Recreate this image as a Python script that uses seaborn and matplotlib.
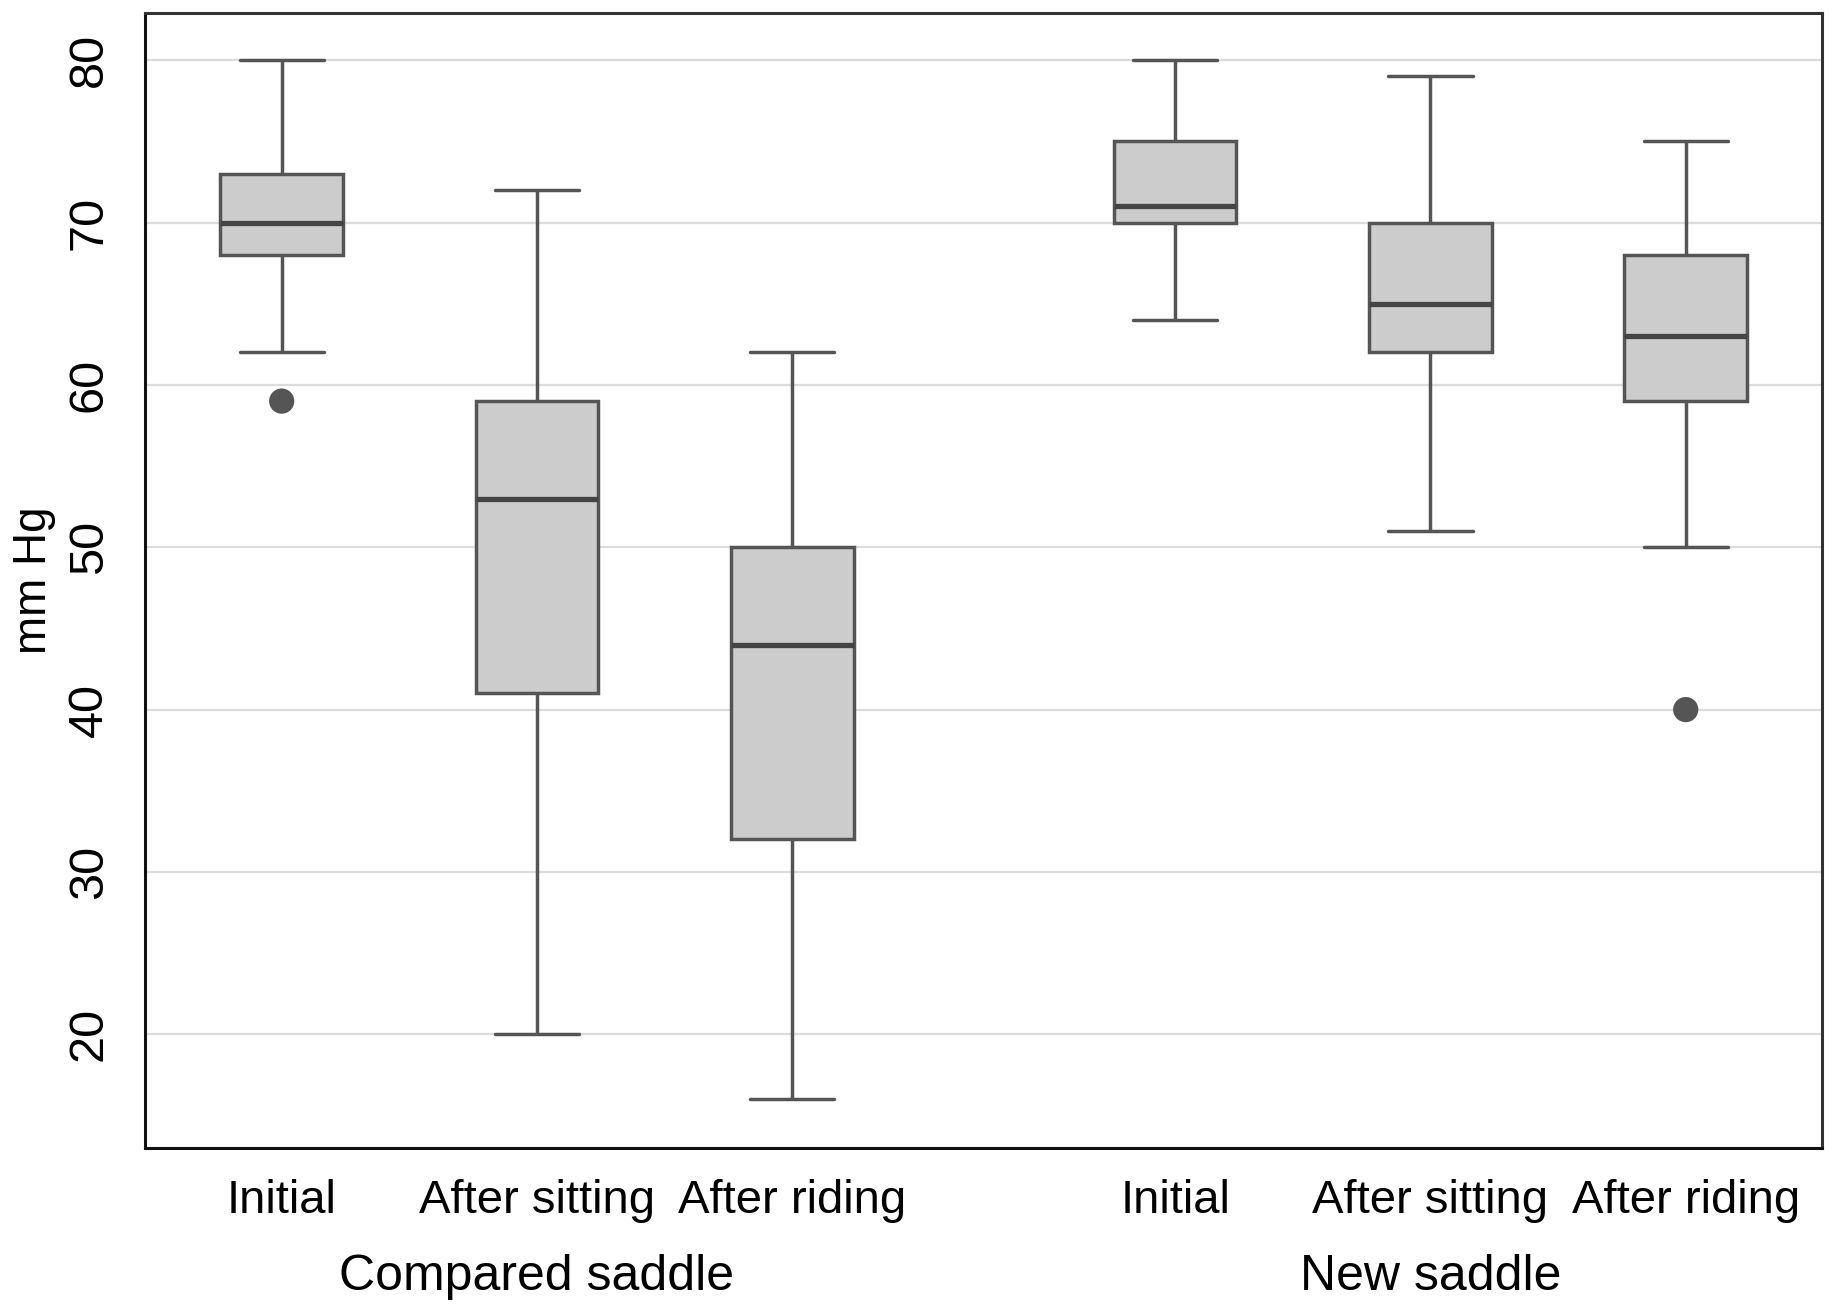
import numpy as np
import pandas as pd
import matplotlib
matplotlib.use("Agg")
import matplotlib.pyplot as plt
import matplotlib.transforms as mtransforms
import seaborn as sns

# Box plot summaries (mm Hg)
saddles = ["Compared saddle", "New saddle"]
conditions = ["Initial", "After sitting", "After riding"]
mins = [62, 20, 16, 64, 51, 50]
q1s = [68, 41, 32, 70, 62, 59]
medians = [70, 53, 44, 71, 65, 63]
q3s = [73, 59, 50, 75, 70, 68]
maxs = [80, 72, 62, 80, 79, 75]
outliers = [[59], [], [], [], [], [40]]

# layout: 3 boxes per saddle, extra half slot between saddles
group_step = 3.5
rows = []
out_rows = []
tick_pos, tick_lab = [], []
for i in range(len(mins)):
    g, c = divmod(i, 3)
    pos = g * group_step + c
    tick_pos.append(pos)
    tick_lab.append(conditions[c])
    for v in [mins[i], q1s[i], medians[i], q3s[i], maxs[i]]:
        rows.append({"pos": pos, "mmHg": v})
    for v in outliers[i]:
        out_rows.append({"pos": pos, "mmHg": v})
df = pd.DataFrame(rows)
df_out = pd.DataFrame(out_rows)

sns.set_style("white")
plt.rcParams["font.family"] = ["Liberation Sans", "DejaVu Sans"]
plt.rcParams["text.color"] = "black"
plt.rcParams["axes.labelcolor"] = "black"
plt.rcParams["xtick.color"] = "black"
plt.rcParams["ytick.color"] = "black"

fig, ax = plt.subplots(figsize=(18.37, 13.06), dpi=100)
fig.subplots_adjust(left=0.079, right=0.992, top=0.990, bottom=0.121)

edge = "#555555"
ax.yaxis.grid(True, color="#dcdcdc", linewidth=1.6)
ax.set_axisbelow(True)

sns.boxplot(data=df, x="pos", y="mmHg", native_scale=True, orient="v",
            width=0.48, color="#cccccc", saturation=1, linecolor=edge,
            linewidth=2.5, whis=(0, 100), showfliers=False,
            capwidths=0.33,
            medianprops=dict(color="#444444", linewidth=3.8), ax=ax)

sns.scatterplot(data=df_out, x="pos", y="mmHg", color=edge, s=330,
                edgecolor="none", ax=ax, zorder=5, legend=False)

ax.set_xlim(-0.535, 5.5 + 0.535)
ax.set_ylim(13, 82.9)
ax.set_yticks([20, 30, 40, 50, 60, 70, 80])
ax.set_xticks(tick_pos)
ax.set_xticklabels(tick_lab, fontsize=34)
ax.tick_params(axis="x", length=0, pad=22)
ax.tick_params(axis="y", length=14, width=2, color="#222222", pad=10, labelsize=35)
for lab in ax.get_yticklabels():
    lab.set_rotation(90)
    lab.set_va("center")
ax.set_xlabel("")
ax.set_ylabel("mm Hg", fontsize=33, labelpad=8)

for side in ["left", "bottom"]:
    ax.spines[side].set_color("#111111")
    ax.spines[side].set_linewidth(2.2)
for side in ["top", "right"]:
    ax.spines[side].set_color("#333333")
    ax.spines[side].set_linewidth(2.2)

trans = mtransforms.blended_transform_factory(ax.transData, ax.transAxes)
for g, name in enumerate(saddles):
    ax.text(g * group_step + 1, -0.114, name, transform=trans,
            ha="center", va="center", fontsize=36)

fig.savefig("out.png", dpi=100)
